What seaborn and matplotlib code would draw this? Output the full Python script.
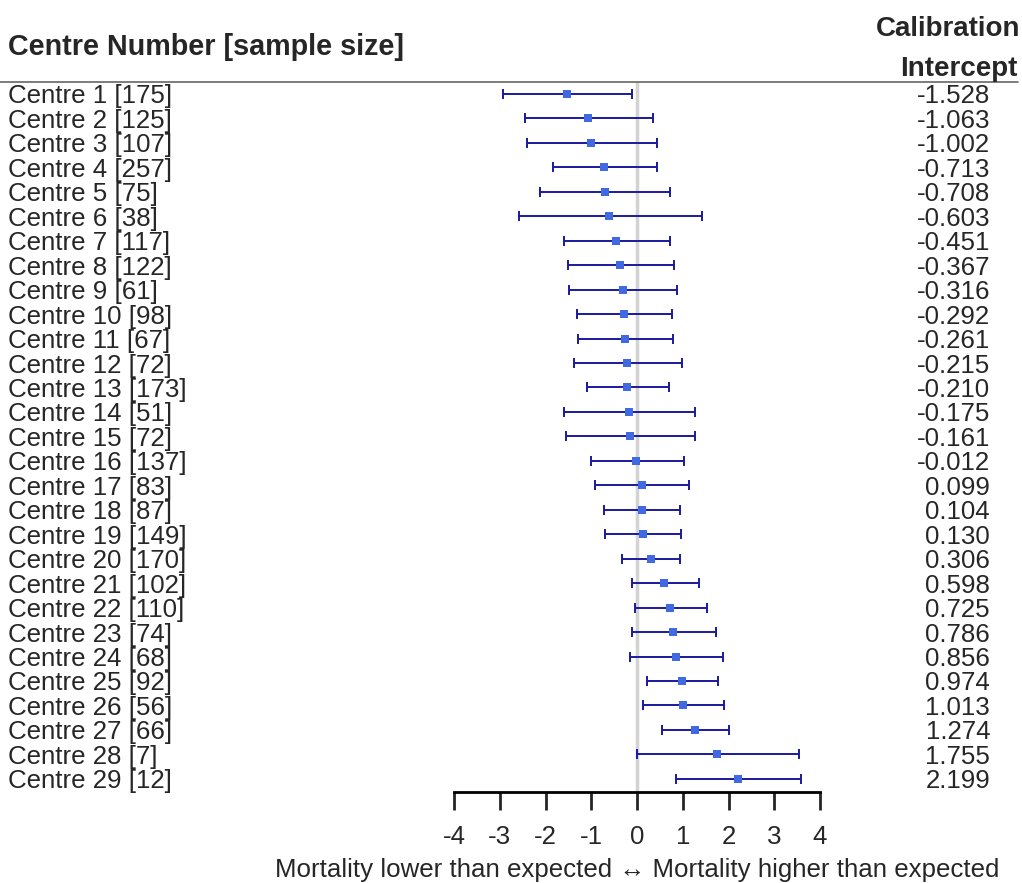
import numpy as np
import pandas as pd
import matplotlib
matplotlib.use("Agg")
import matplotlib.pyplot as plt
import matplotlib.transforms as mtransforms
from matplotlib.lines import Line2D
import seaborn as sns

# data
centre = list(range(1, 30))
sample_size = [175, 125, 107, 257, 75, 38, 117, 122, 61, 98, 67, 72, 173, 51, 72,
               137, 83, 87, 149, 170, 102, 110, 74, 68, 92, 56, 66, 7, 12]
intercept = [-1.528, -1.063, -1.002, -0.713, -0.708, -0.603, -0.451, -0.367, -0.316,
             -0.292, -0.261, -0.215, -0.210, -0.175, -0.161, -0.012, 0.099, 0.104,
             0.130, 0.306, 0.598, 0.725, 0.786, 0.856, 0.974, 1.013, 1.274, 1.755, 2.199]
ci_low = [-2.92, -2.45, -2.41, -1.84, -2.12, -2.59, -1.60, -1.51, -1.49, -1.32,
          -1.30, -1.38, -1.10, -1.60, -1.56, -1.01, -0.91, -0.73, -0.69, -0.32,
          -0.11, -0.04, -0.12, -0.15, 0.21, 0.14, 0.55, 0.01, 0.85]
ci_high = [-0.12, 0.36, 0.43, 0.44, 0.72, 1.41, 0.72, 0.80, 0.88, 0.76,
           0.79, 0.98, 0.70, 1.27, 1.26, 1.02, 1.14, 0.95, 0.96, 0.95,
           1.35, 1.52, 1.73, 1.89, 1.77, 1.91, 2.02, 3.54, 3.58]
xticks = [-4, -3, -2, -1, 0, 1, 2, 3, 4]

df = pd.DataFrame({"centre": centre, "n": sample_size, "est": intercept,
                   "lo": ci_low, "hi": ci_high})
df["row"] = np.arange(len(df))
df["label"] = ["Centre %d [%d]" % (c, n) for c, n in zip(df.centre, df.n)]

sns.set_style("white")
plt.rcParams["font.family"] = ["Liberation Sans", "DejaVu Sans"]

W, H = 1022, 883
fs = 18.6
fig = plt.figure(figsize=(W / 100, H / 100), dpi=100)
ax = fig.add_axes([454 / W, 1 - 792 / H, (820 - 454) / W, (792 - 82) / H])

ax.axvline(0, color="#d3d3d3", lw=2.5, zorder=0)
ax.errorbar(df.est, df.row, xerr=[df.est - df.lo, df.hi - df.est], fmt="none",
            ecolor="#1a1a9c", elinewidth=1.4, capsize=3.5, capthick=1.4, zorder=2)
sns.scatterplot(data=df, x="est", y="row", marker="s", s=34, color="#4169e1",
                edgecolor="#4169e1", linewidth=0, ax=ax, zorder=3, legend=False)

ax.set_xlim(-4, 4)
ax.set_ylim(28.54, -0.49)
ax.set_xticks(xticks)
ax.set_xticklabels([str(t) for t in xticks], fontsize=fs)
ax.set_yticks([])
for s in ["top", "left", "right"]:
    ax.spines[s].set_visible(False)
ax.spines["bottom"].set_linewidth(2)
ax.spines["bottom"].set_color("black")
ax.tick_params(axis="x", direction="out", length=13, width=2, pad=11, bottom=True)
ax.set_xlabel("Mortality lower than expected \u2194 Mortality higher than expected",
              fontsize=fs, labelpad=6)
ax.set_ylabel("")

trans = mtransforms.blended_transform_factory(fig.transFigure, ax.transData)
for _, r in df.iterrows():
    ax.text(8 / W, r.row, r.label, transform=trans, ha="left",
            va="center_baseline", fontsize=fs, clip_on=False)
    ax.text(990 / W, r.row, "%.3f" % r.est, transform=trans, ha="right",
            va="center_baseline", fontsize=fs, clip_on=False)

hdr = ["Liberation Sans Narrow", "Liberation Sans", "DejaVu Sans"]
fig.text(8 / W, 1 - 47 / H, "Centre Number [sample size]", ha="left", va="center",
         fontsize=20.7, fontweight="bold", family=hdr)
fig.text(1020 / W, 1 - 29 / H, "Calibration", ha="right", va="center",
         fontsize=20, fontweight="bold", family=hdr)
fig.text(1017 / W, 1 - 69 / H, "Intercept", ha="right", va="center",
         fontsize=20, fontweight="bold", family=hdr)
fig.add_artist(Line2D([0, 1018 / W], [1 - 82 / H, 1 - 82 / H], color="#666666", lw=1.2,
                      transform=fig.transFigure))

fig.savefig("out.png", dpi=100)
